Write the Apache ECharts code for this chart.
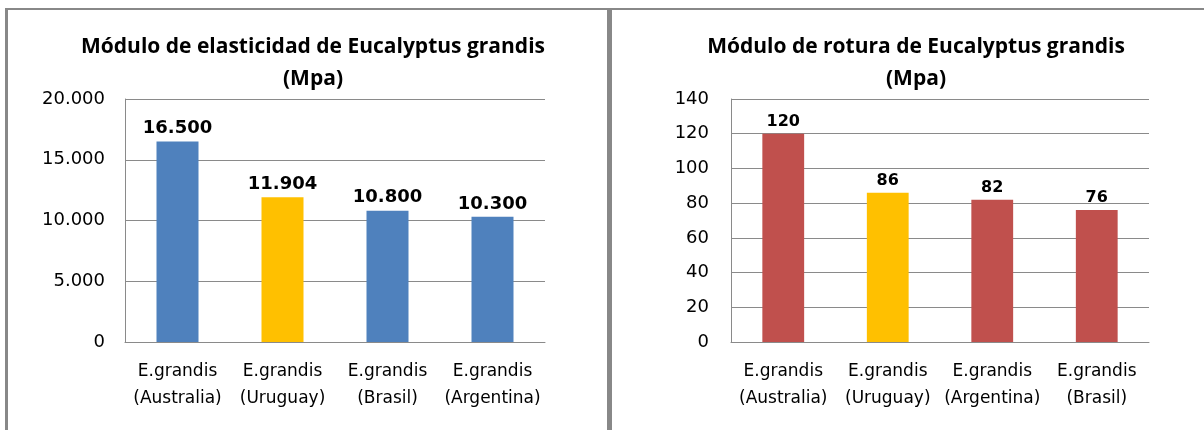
<!DOCTYPE html>
<html>
<head>
<meta charset="utf-8">
<script src="https://cdn.jsdelivr.net/npm/echarts@6/dist/echarts.min.js"></script>
<style>
  html, body { margin: 0; padding: 0; background: #fff; }
  #wrap { position: relative; width: 1204px; height: 430px; overflow: hidden; }
  .panel { position: absolute; top: 8px; height: 440px; border-top: 2px solid #888; border-left: 3px solid #888; box-sizing: border-box; }
  #p1 { left: 5px; width: 604px; border-right: 2px solid #888; }
  #p2 { left: 609px; width: 620px; }
  #chart { position: absolute; left: 0; top: 0; width: 1204px; height: 430px; }
</style>
</head>
<body>
<div id="wrap">
  <div class="panel" id="p1"></div>
  <div class="panel" id="p2"></div>
  <div id="chart"></div>
</div>
<script>
// Módulo de elasticidad (Mpa)
const elastCategories = ["E.grandis\n(Australia)", "E.grandis\n(Uruguay)", "E.grandis\n(Brasil)", "E.grandis\n(Argentina)"];
const elastValues = [16500, 11904, 10800, 10300];
const elastTicks = [0, 5000, 10000, 15000, 20000];

// Módulo de rotura (Mpa)
const roturaCategories = ["E.grandis\n(Australia)", "E.grandis\n(Uruguay)", "E.grandis\n(Argentina)", "E.grandis\n(Brasil)"];
const roturaValues = [120, 86, 82, 76];
const roturaTicks = [0, 20, 40, 60, 80, 100, 120, 140];

const highlightName = "Uruguay";

const BLUE = "#4F81BD";
const RED = "#C0504D";
const YELLOW = "#FFC000";
const GRID_COLOR = "#8a8a8a";
const AXIS_FONT = "DejaVu Sans";

// separador de miles con punto
const fmtMiles = (v) => {
  const s = String(Math.round(v));
  return s.replace(/\B(?=(\d{3})+(?!\d))/g, ".");
};

const colorFor = (cats, base) => (p) =>
  cats[p.dataIndex].indexOf(highlightName) >= 0 ? YELLOW : base;

const buildY = (gridIndex, ticks, fmt, margin) => ({
  type: "value",
  gridIndex,
  min: ticks[0],
  max: ticks[ticks.length - 1],
  interval: ticks[1] - ticks[0],
  axisLine: { show: true, lineStyle: { color: GRID_COLOR, width: 1 } },
  axisTick: { show: false },
  axisLabel: { color: "#000", fontFamily: AXIS_FONT, fontSize: 18, margin, formatter: fmt },
  splitLine: { show: true, lineStyle: { color: GRID_COLOR, width: 1 } },
});

const buildX = (gridIndex, cats) => ({
  type: "category",
  gridIndex,
  data: cats,
  axisLine: { show: true, lineStyle: { color: GRID_COLOR, width: 1 } },
  axisTick: { show: false },
  axisLabel: {
    color: "#000",
    fontFamily: AXIS_FONT,
    fontSize: 17,
    lineHeight: 27,
    margin: 16,
    interval: 0,
  },
});

const chart = echarts.init(document.getElementById("chart"), null, { renderer: "canvas" });

const titleStyle = {
  fontFamily: "Open Sans",
  fontWeight: "bold",
  fontSize: 21,
  lineHeight: 32,
  color: "#000",
};

chart.setOption({
  animation: false,
  backgroundColor: "transparent",
  title: [
    {
      text: "Módulo de elasticidad de Eucalyptus grandis\n(Mpa)",
      left: 308,
      top: 26,
      textAlign: "center",
      textStyle: titleStyle,
    },
    {
      text: "Módulo de rotura de Eucalyptus grandis\n(Mpa)",
      left: 911,
      top: 26,
      textAlign: "center",
      textStyle: titleStyle,
    },
  ],
  grid: [
    { left: 125, top: 99, width: 420, height: 243 },
    { left: 731, top: 99, width: 418, height: 243 },
  ],
  xAxis: [buildX(0, elastCategories), buildX(1, roturaCategories)],
  yAxis: [
    buildY(0, elastTicks, (v) => fmtMiles(v), 20),
    buildY(1, roturaTicks, (v) => String(v), 22),
  ],
  series: [
    {
      type: "bar",
      xAxisIndex: 0,
      yAxisIndex: 0,
      data: elastValues,
      barWidth: "40%",
      itemStyle: { color: colorFor(elastCategories, BLUE) },
      label: {
        show: true,
        position: "top",
        distance: 4,
        color: "#000",
        fontFamily: AXIS_FONT,
        fontWeight: "bold",
        fontSize: 18,
        formatter: (p) => fmtMiles(p.value),
      },
    },
    {
      type: "bar",
      xAxisIndex: 1,
      yAxisIndex: 1,
      data: roturaValues,
      barWidth: "40%",
      itemStyle: { color: colorFor(roturaCategories, RED) },
      label: {
        show: true,
        position: "top",
        distance: 4,
        color: "#000",
        fontFamily: AXIS_FONT,
        fontWeight: "bold",
        fontSize: 16,
      },
    },
  ],
});
</script>
</body>
</html>
